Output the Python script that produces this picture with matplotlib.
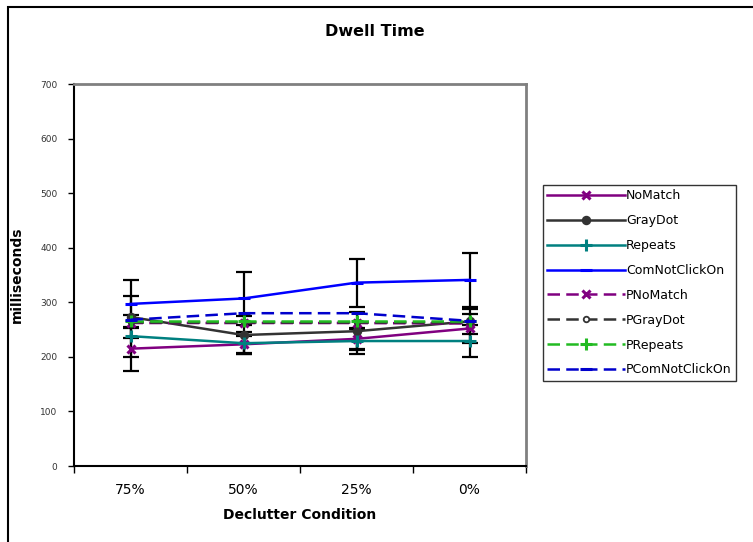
import matplotlib
matplotlib.use("Agg")
import matplotlib.pyplot as plt
from matplotlib.patches import Rectangle
import numpy as np

categories = ["75%", "50%", "25%", "0%"]
series_names = ["NoMatch", "GrayDot", "Repeats", "ComNotClickOn",
                "PNoMatch", "PGrayDot", "PRepeats", "PComNotClickOn"]
nomatch = [215, 223, 233, 252]
graydot = [273, 240, 247, 265]
repeats = [238, 225, 229, 229]
comnotclickon = [297, 307, 336, 341]
pnomatch = [262, 262, 262, 261]
pgraydot = [263, 263, 263, 263]
prepeats = [266, 266, 266, 266]
pcomnotclickon = [268, 280, 280, 266]

err_nomatch = [40, 16, 18, 27]
err_graydot = [38, 35, 35, 23]
err_repeats = [39, 20, 23, 30]
err_comnotclickon = [44, 48, 44, 50]

W, H = 753, 542
fig = plt.figure(figsize=(W / 100, H / 100), dpi=100)
fig.patches.append(Rectangle((8 / W, -0.05), 1.1, 1 - 7 / H + 0.05, transform=fig.transFigure,
                             fill=False, edgecolor="black", linewidth=1.5, zorder=0))

ax = fig.add_axes([74 / W, 1 - 466 / H, (526 - 74) / W, (466 - 84) / H])
x = np.arange(1, 5)

dash = (0, (5, 2.5))
specs = [
    (nomatch, "#800080", "-", "x", "#800080", 6, err_nomatch),
    (graydot, "#333333", "-", "o", "#333333", 5.5, err_graydot),
    (repeats, "#008080", "-", "+", "#008080", 8, err_repeats),
    (comnotclickon, "#0000FF", "-", "_", "#0000FF", 8, err_comnotclickon),
    (pnomatch, "#800080", dash, "x", "#800080", 6, None),
    (pgraydot, "#333333", dash, "o", "white", 4, None),
    (prepeats, "#22BB22", dash, "+", "#22BB22", 8, None),
    (pcomnotclickon, "#0000CC", dash, "_", "#0000CC", 8, None),
]

for (vals, col, ls, mk, mfc, ms, err), name in zip(specs, series_names):
    if err is not None:
        ax.errorbar(x, vals, yerr=err, fmt="none", ecolor="black", elinewidth=1.6,
                    capsize=6, capthick=1.6, zorder=2)
    ax.plot(x, vals, color=col, linestyle=ls, linewidth=1.8, marker=mk,
            markersize=ms, markerfacecolor=mfc, markeredgecolor=col,
            markeredgewidth=2.2 if mk in ("x", "+", "_") else 1.3, label=name, zorder=3)

ax.set_xlim(0.5, 4.5)
ax.set_ylim(0, 700)
ax.set_yticks(range(0, 701, 100))
ax.set_yticklabels([str(v) for v in range(0, 701, 100)], fontsize=6.5, color="#333333")
ax.set_xticks([0.5, 1.5, 2.5, 3.5, 4.5])
ax.set_xticklabels([])
ax.set_xticks(x, minor=True)
ax.set_xticklabels(categories, minor=True, fontsize=10)
ax.tick_params(axis="x", which="minor", length=0, pad=12)
ax.tick_params(axis="x", which="major", length=5, direction="out", width=1)
ax.tick_params(axis="y", length=4, direction="out", width=1, pad=8)

for s in ["top", "right"]:
    ax.spines[s].set_color("#808080")
    ax.spines[s].set_linewidth(2)
for s in ["left", "bottom"]:
    ax.spines[s].set_color("black")
    ax.spines[s].set_linewidth(1.5)

ax.set_xlabel("Declutter Condition", fontsize=10, fontweight="bold", labelpad=8)
ax.set_ylabel("milliseconds", fontsize=10, fontweight="bold", labelpad=12)
fig.text(375 / W, 1 - 32 / H, "Dwell Time", ha="center", va="center",
         fontsize=11.5, fontweight="bold")

leg = fig.legend(loc="upper left", bbox_to_anchor=(543 / W, 1 - 185 / H),
                 fontsize=9, handlelength=6.2, handletextpad=0.1, labelspacing=0.95,
                 frameon=True, fancybox=False, edgecolor="black", borderpad=0.35,
                 borderaxespad=0)
leg.get_frame().set_linewidth(1)

fig.savefig("out.png", dpi=100)
